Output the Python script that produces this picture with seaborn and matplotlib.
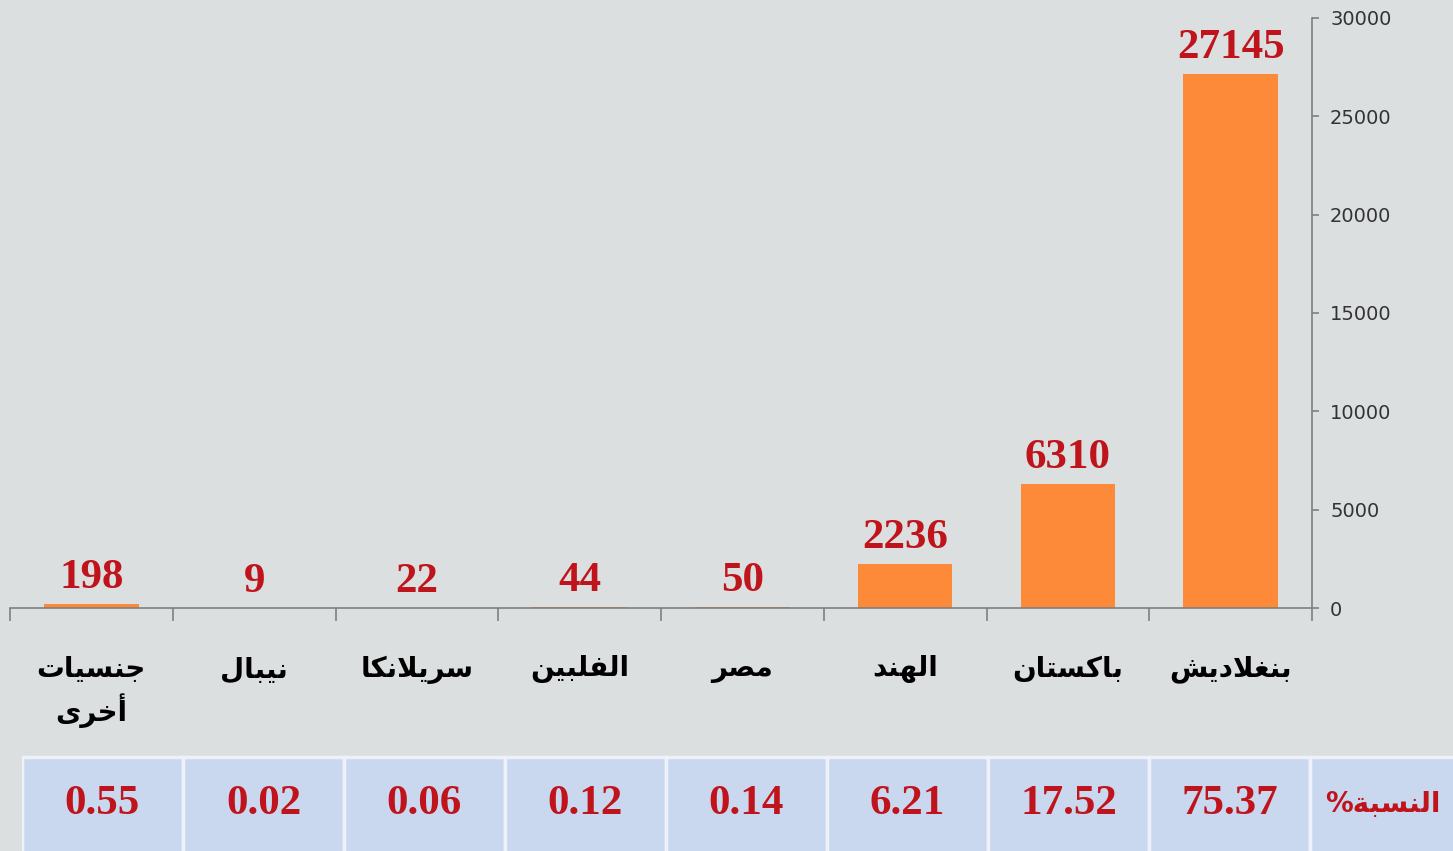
import matplotlib
matplotlib.use('Agg')
import matplotlib.pyplot as plt
import seaborn as sns

# data, left to right as in the picture
countries = ['جنسيات\nأخرى', 'نيبال', 'سريلانكا', 'الفلبين', 'مصر', 'الهند', 'باكستان', 'بنغلاديش']
workers = [198, 9, 22, 44, 50, 2236, 6310, 27145]
percent = ['0.55', '0.02', '0.06', '0.12', '0.14', '6.21', '17.52', '75.37']
percent_title = 'النسبة%'
y_ticks = [0, 5000, 10000, 15000, 20000, 25000, 30000]

BG = '#dcdfdf'
ORANGE = '#fd8a38'
RED = '#c0141c'
CELL = '#c9d8ef'

# matplotlib has no arabic shaping, so pick the presentation forms by hand
# letter: (isolated, final, initial, medial)
FORMS = {
    'ا': (0xFE8D, 0xFE8E, None, None),
    'أ': (0xFE83, 0xFE84, None, None),
    'ب': (0xFE8F, 0xFE90, 0xFE91, 0xFE92),
    'ة': (0xFE93, 0xFE94, None, None),
    'ت': (0xFE95, 0xFE96, 0xFE97, 0xFE98),
    'ج': (0xFE9D, 0xFE9E, 0xFE9F, 0xFEA0),
    'خ': (0xFEA5, 0xFEA6, 0xFEA7, 0xFEA8),
    'د': (0xFEA9, 0xFEAA, None, None),
    'ر': (0xFEAD, 0xFEAE, None, None),
    'س': (0xFEB1, 0xFEB2, 0xFEB3, 0xFEB4),
    'ش': (0xFEB5, 0xFEB6, 0xFEB7, 0xFEB8),
    'ص': (0xFEB9, 0xFEBA, 0xFEBB, 0xFEBC),
    'غ': (0xFECD, 0xFECE, 0xFECF, 0xFED0),
    'ف': (0xFED1, 0xFED2, 0xFED3, 0xFED4),
    'ك': (0xFED9, 0xFEDA, 0xFEDB, 0xFEDC),
    'ل': (0xFEDD, 0xFEDE, 0xFEDF, 0xFEE0),
    'م': (0xFEE1, 0xFEE2, 0xFEE3, 0xFEE4),
    'ن': (0xFEE5, 0xFEE6, 0xFEE7, 0xFEE8),
    'ه': (0xFEE9, 0xFEEA, 0xFEEB, 0xFEEC),
    'ى': (0xFEEF, 0xFEF0, None, None),
    'ي': (0xFEF1, 0xFEF2, 0xFEF3, 0xFEF4),
    'لا': (0xFEFB, 0xFEFC, None, None),
}


def shape_line(line):
    chars = []
    i = 0
    while i < len(line):
        if line[i] == 'ل' and i + 1 < len(line) and line[i + 1] == 'ا':
            chars.append('لا')
            i += 2
        else:
            chars.append(line[i])
            i += 1
    glyphs = []
    for k, c in enumerate(chars):
        if c not in FORMS:
            glyphs.append(c)
            continue
        prev = chars[k - 1] if k > 0 else None
        nxt = chars[k + 1] if k + 1 < len(chars) else None
        join_prev = prev in FORMS and FORMS[prev][2] is not None
        join_next = FORMS[c][2] is not None and nxt in FORMS
        iso, fin, ini, med = FORMS[c]
        if join_prev and join_next:
            g = med
        elif join_prev:
            g = fin
        elif join_next:
            g = ini
        else:
            g = iso
        glyphs.append(chr(g))
    return ''.join(reversed(glyphs))


def shape(text):
    return '\n'.join(shape_line(l) for l in text.split('\n'))


sns.set_theme(style='white')
plt.rcParams['font.family'] = ['DejaVu Sans']

W, H = 1453, 851
fig = plt.figure(figsize=(W / 100, H / 100), dpi=100, facecolor=BG)

# main bar chart
ax = fig.add_axes([10 / W, (H - 608) / H, (1312 - 10) / W, (608 - 18) / H])
ax.set_facecolor('none')
sns.barplot(x=list(range(len(workers))), y=workers, color=ORANGE, width=0.58,
            saturation=1, linewidth=0, ax=ax)
ax.set_xlim(-0.5, len(workers) - 0.5)
ax.set_ylim(0, 30000)

ax.bar_label(ax.containers[0], labels=[str(v) for v in workers], padding=5,
             color=RED, fontsize=31, fontweight='bold', family='Liberation Serif')

ax.yaxis.tick_right()
ax.set_yticks(y_ticks)
ax.set_yticklabels([str(t) for t in y_ticks], fontsize=14, color='#333333')
ax.tick_params(axis='y', which='major', right=True, length=5, width=1.2,
               color='#7f7f7f', pad=8, direction='out')

ax.set_xticks(range(len(countries)))
ax.set_xticklabels([shape(c) for c in countries], fontsize=20, color='black',
                   fontweight='bold', linespacing=1.35)
ax.set_xticks([i - 0.5 for i in range(len(countries) + 1)], minor=True)
ax.tick_params(axis='x', which='major', bottom=False, length=0, pad=34)
ax.tick_params(axis='x', which='minor', bottom=True, length=9, width=1.2,
               color='#7f7f7f', direction='out')

for side in ['left', 'top']:
    ax.spines[side].set_visible(False)
for side in ['right', 'bottom']:
    ax.spines[side].set_color('#7f7f7f')
    ax.spines[side].set_linewidth(1.2)
ax.set_xlabel('')
ax.set_ylabel('')

# percentage table under the chart
cell = (1310 - 22) / len(percent)
tab = fig.add_axes([22 / W, 0, (W - 22) / W, 97 / H])
tab.set_facecolor('none')
n = len(percent)
tab.bar(range(n + 1), [1.1] * (n + 1), bottom=-0.1, width=1,
        color=CELL, edgecolor='#eef2f8', linewidth=2.5)
tab.set_xlim(-0.5, -0.5 + (W - 22) / cell)
tab.set_ylim(0, 1.03)
for i, p in enumerate(percent):
    tab.text(i, 0.5, p, ha='center', va='center', color=RED, fontsize=31,
             fontweight='bold', family='Liberation Serif')
tab.text(n - 0.05, 0.5, shape(percent_title), ha='center', va='center',
         color=RED, fontsize=20, fontweight='bold')
tab.axis('off')

fig.savefig('out.png', dpi=100, facecolor=BG)
